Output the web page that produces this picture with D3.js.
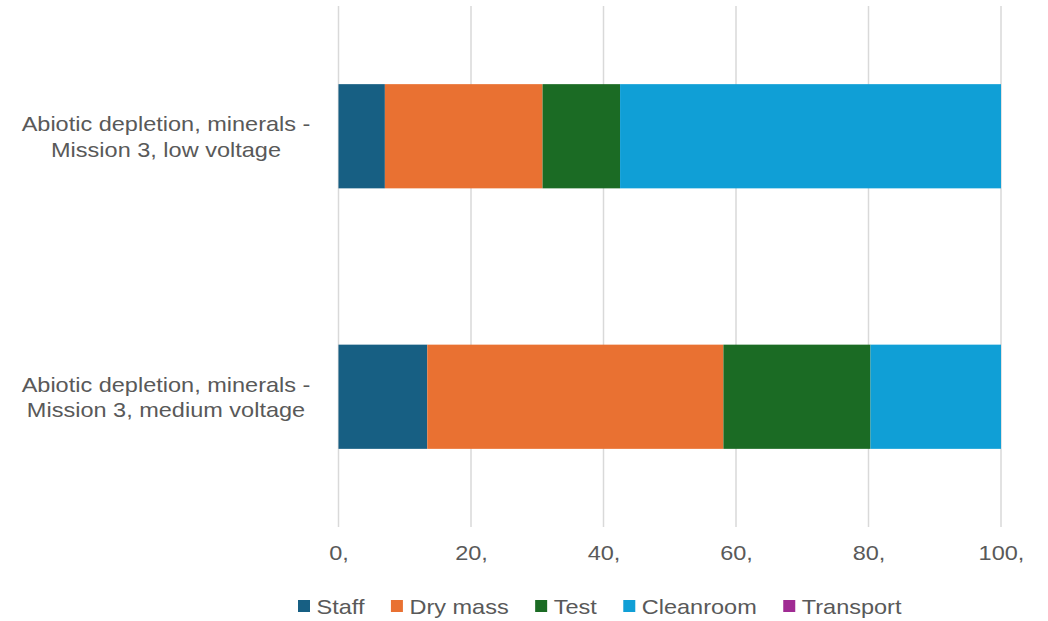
<!DOCTYPE html>
<html>
<head>
<meta charset="utf-8">
<script src="https://cdn.jsdelivr.net/npm/d3@7"></script>
<style>
  body { margin: 0; background: #fff; }
  text { font-family: "Liberation Sans", Arial, sans-serif; fill: #595959; }
</style>
</head>
<body>
<div id="chart"></div>
<script>
// categories (top to bottom), each label split in two lines
const categories = ['low', 'medium'];
const categoryLines = [
  ['Abiotic depletion, minerals -', 'Mission 3, low voltage'],
  ['Abiotic depletion, minerals -', 'Mission 3, medium voltage']
];
const seriesNames = ['Staff', 'Dry mass', 'Test', 'Cleanroom', 'Transport'];
const seriesColors = ['#175f83', '#e97132', '#1b6b24', '#109fd6', '#a02b93'];
// values per series, one per category (percent)
const staff = [7.0, 13.4];
const dryMass = [23.8, 44.7];
const test = [11.7, 22.2];
const cleanroom = [57.5, 19.7];
const transport = [0, 0];
const xTicks = [0, 20, 40, 60, 80, 100];
const xTickLabels = ['0,', '20,', '40,', '60,', '80,', '100,'];

const config = {
  width: 1048,
  height: 621,
  left: 338.5,
  right: 1001,
  top: 6,
  bottom: 527,
  fontSize: 21,
  stretch: 1.12
};

const seriesValues = [staff, dryMass, test, cleanroom, transport];
const rows = categories.map((c, i) => {
  let row = { cat: c };
  seriesNames.forEach((s, j) => { row[s] = seriesValues[j][i]; });
  return row;
});
const stacked = d3.stack().keys(seriesNames)(rows);

const svg = d3.select('#chart').append('svg')
  .attr('width', config.width)
  .attr('height', config.height);

const x = d3.scaleLinear().domain([0, 100]).range([config.left, config.right]);
const y = d3.scaleBand().domain(categories).range([config.top, config.bottom])
  .paddingInner(0.6).paddingOuter(0.3);

// gridlines
svg.append('g').selectAll('line')
  .data(xTicks)
  .enter().append('line')
  .attr('x1', d => x(d)).attr('x2', d => x(d))
  .attr('y1', config.top).attr('y2', config.bottom)
  .attr('stroke', '#d9d9d9')
  .attr('stroke-width', 1.5);

// bars
svg.append('g').selectAll('g')
  .data(stacked)
  .enter().append('g')
  .attr('fill', (d, i) => seriesColors[i])
  .selectAll('rect')
  .data(d => d)
  .enter().append('rect')
  .attr('x', d => x(d[0]))
  .attr('width', d => x(d[1]) - x(d[0]))
  .attr('y', d => y(d.data.cat))
  .attr('height', y.bandwidth());

// x axis labels
const xAxis = svg.append('g')
  .attr('transform', `translate(0,${config.bottom})`)
  .call(d3.axisBottom(x).tickValues(xTicks).tickSize(0).tickPadding(0)
    .tickFormat((d, i) => xTickLabels[i]));
xAxis.select('.domain').remove();
xAxis.selectAll('text')
  .attr('y', 33.5)
  .attr('dy', 0)
  .attr('font-size', config.fontSize)
  .attr('fill', '#595959')
  .attr('transform', `scale(${config.stretch},1)`);

// category labels
const catG = svg.append('g').selectAll('g')
  .data(categories)
  .enter().append('g')
  .attr('transform', d => `translate(166,${y(d) + y.bandwidth() / 2}) scale(${config.stretch},1)`);
catG.selectAll('text')
  .data((d, i) => categoryLines[i])
  .enter().append('text')
  .attr('text-anchor', 'middle')
  .attr('font-size', config.fontSize)
  .attr('y', (d, i) => i === 0 ? -5 : 20.5)
  .text(d => d);

// legend
const legend = svg.append('g').attr('transform', 'translate(298,606)');
let lx = 0;
seriesNames.forEach((name, i) => {
  const item = legend.append('g').attr('transform', `translate(${lx},0)`);
  item.append('rect')
    .attr('x', 0).attr('y', -6)
    .attr('width', 12).attr('height', 12)
    .attr('fill', seriesColors[i]);
  const t = item.append('text')
    .attr('transform', `translate(18.5,7.5) scale(${config.stretch},1)`)
    .attr('font-size', config.fontSize)
    .text(name);
  const w = t.node().getComputedTextLength() * config.stretch;
  lx += 18.5 + w + 26.5;
});
</script>
</body>
</html>
